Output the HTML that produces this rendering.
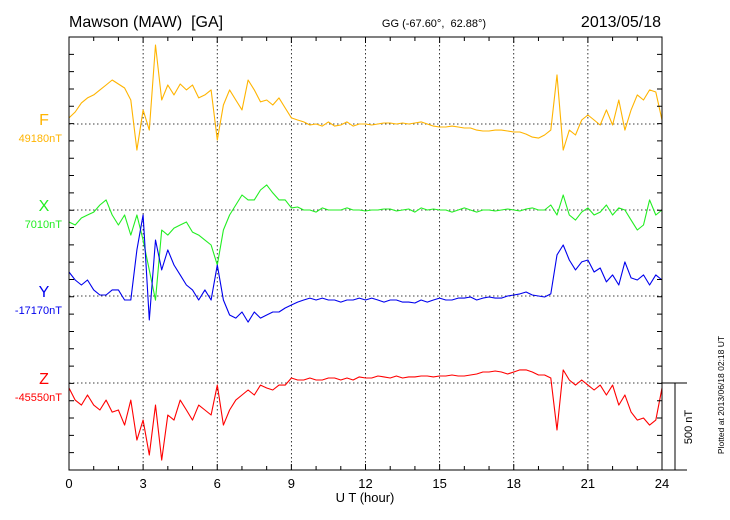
<!DOCTYPE html>
<html><head><meta charset="utf-8"><style>
body{margin:0;background:#fff;}
svg{display:block;font-family:"Liberation Sans",sans-serif;}
text{white-space:pre;}
</style></head><body>
<svg id="chart" width="730" height="520" viewBox="0 0 730 520">
<text x="69" y="27" font-size="16" xml:space="preserve">Mawson (MAW)  [GA]</text>
<text x="434" y="27" font-size="11" text-anchor="middle" xml:space="preserve">GG (-67.60°,  62.88°)</text>
<text x="661" y="27" font-size="16" text-anchor="end">2013/05/18</text>
<text x="365" y="502" font-size="13" text-anchor="middle">U T (hour)</text>
<text transform="translate(724,395) rotate(-90)" font-size="8.5" text-anchor="middle">Plotted at 2013/06/18 02:18 UT</text>
<g id="grid"></g><g id="series"></g><g id="axes"></g>
</svg>
<script>
const hours=[0,3,6,9,12,15,18,21,24];
const seriesNames=["F","X","Y","Z"];
const baselineLabels=["49180nT","7010nT","-17170nT","-45550nT"];
const F=[35,69,121,150,167,196,224,253,230,207,138,-150,81,-35,454,138,224,167,230,196,224,150,167,196,-92,109,196,138,81,253,196,127,138,109,150,92,35,23,12,-6,0,-12,12,-12,-6,12,-12,0,0,-6,0,6,6,0,6,0,6,12,0,-12,-17,-17,-12,-17,-23,-23,-35,-40,-40,-35,-35,-40,-46,-46,-58,-75,-81,-63,-35,282,-150,-35,-63,23,52,23,-6,81,-6,138,-35,81,167,138,196,184,23];
const X=[-69,-86,-46,-29,-12,29,58,-29,-86,-29,-144,-29,-173,-345,-518,-115,-144,-104,-86,-69,-127,-144,-173,-201,-316,-115,-29,29,86,58,58,115,144,98,58,58,12,17,0,0,-12,12,0,0,0,12,0,0,-6,0,0,6,6,-6,0,6,-12,12,0,6,0,0,-12,0,12,0,-12,0,0,-6,0,6,0,-6,6,12,0,0,29,-29,86,-29,-58,-12,12,-29,-12,29,-29,12,0,-58,-115,-86,58,-29,0];
const Y=[138,92,63,92,35,6,6,35,35,-23,-23,265,466,-138,322,150,265,178,121,63,35,-23,35,-23,178,-23,-109,-127,-92,-150,-92,-127,-109,-92,-92,-69,-52,-35,-23,-12,-23,-12,-23,-23,-35,-23,-23,-12,-23,-12,-23,-35,-23,-23,-35,-35,-40,-23,-35,-23,-12,-23,-23,-12,-12,-6,-23,-12,-6,-12,-12,0,6,12,23,6,0,-6,12,236,293,207,150,196,207,138,161,81,121,63,196,104,92,121,63,121,92];
const Z=[-29,-98,-127,-69,-127,-155,-98,-167,-155,-242,-98,-328,-213,-414,-127,-443,-184,-213,-98,-155,-213,-127,-155,-184,-12,-242,-155,-98,-69,-40,-69,-12,-29,-40,-12,-12,29,17,17,29,17,17,29,29,17,29,17,35,29,29,40,35,29,40,29,35,35,40,40,35,40,40,46,40,40,46,52,63,63,69,63,52,63,75,75,63,46,46,29,-270,75,17,-12,17,-12,-40,-12,-69,-12,-127,-69,-167,-213,-201,-242,-213,-29];
const seriesData=[F,X,Y,Z];
const colors=["#ffb400","#22ee22","#0000ee","#ff0000"];
const L=69,R=662,T=37,B=470;
const baseY=[124,210,296,383];
const pxPerNT=87/500;
const xs=h=>L+(R-L)*h/24;
const NS="http://www.w3.org/2000/svg";
function mk(tag,attrs,parent){const e=document.createElementNS(NS,tag);for(const k in attrs)e.setAttribute(k,attrs[k]);parent.appendChild(e);return e;}
const grid=document.getElementById('grid'),ser=document.getElementById('series'),ax=document.getElementById('axes');
hours.slice(1,-1).forEach(h=>{const l=mk('line',{x1:xs(h),x2:xs(h),y1:T,y2:B,stroke:'#000','stroke-width':0.8,'stroke-dasharray':'1.5,2.5'},grid);

});
baseY.forEach(y=>{const l=mk('line',{x1:L,x2:R,y1:y,y2:y,stroke:'#000','stroke-width':0.8,'stroke-dasharray':'1.5,2.5'},grid);

});
seriesData.forEach((d,si)=>{
  const n=d.length;
  const pts=d.map((v,i)=>xs(i*24/(n-1)).toFixed(1)+','+(baseY[si]-v*pxPerNT).toFixed(1)).join(' ');
  const p=mk('polyline',{points:pts,fill:'none',stroke:colors[si],'stroke-width':1.1,'stroke-linejoin':'round'},ser);
  
  
  const t=mk('text',{x:44,y:baseY[si]+1,'font-size':16,fill:colors[si],'text-anchor':'middle'},ax);t.textContent=seriesNames[si];
  
  
  const b=mk('text',{x:62,y:baseY[si]+18,'font-size':11,fill:colors[si],'text-anchor':'end'},ax);b.textContent=baselineLabels[si];
  
  
});
const fr=mk('rect',{x:L,y:T,width:R-L,height:B-T,fill:'none',stroke:'#000','stroke-width':1},ax);


let tk='';
for(let h=0;h<=24;h++){const x=xs(h),len=h%3?4:6;tk+=`M${x},${B}v${-len}M${x},${T}v${len}`;}
for(let i=1;i<25;i++){const y=T+(B-T)*i/25;tk+=`M${L},${y}h5M${R},${y}h-5`;}
const tp=mk('path',{d:tk,stroke:'#000','stroke-width':1,fill:'none'},ax);


hours.forEach(h=>{const t=mk('text',{x:xs(h),y:488,'font-size':13,'text-anchor':'middle'},ax);t.textContent=h;

});
const sb=mk('path',{d:`M${R},383H687M675,383V${B}M${R},${B}H687`,stroke:'#000','stroke-width':1,fill:'none'},ax);


const st=mk('text',{transform:'translate(692,427) rotate(-90)','font-size':11,'text-anchor':'middle'},ax);st.textContent='500 nT';


</script>
</body></html>
